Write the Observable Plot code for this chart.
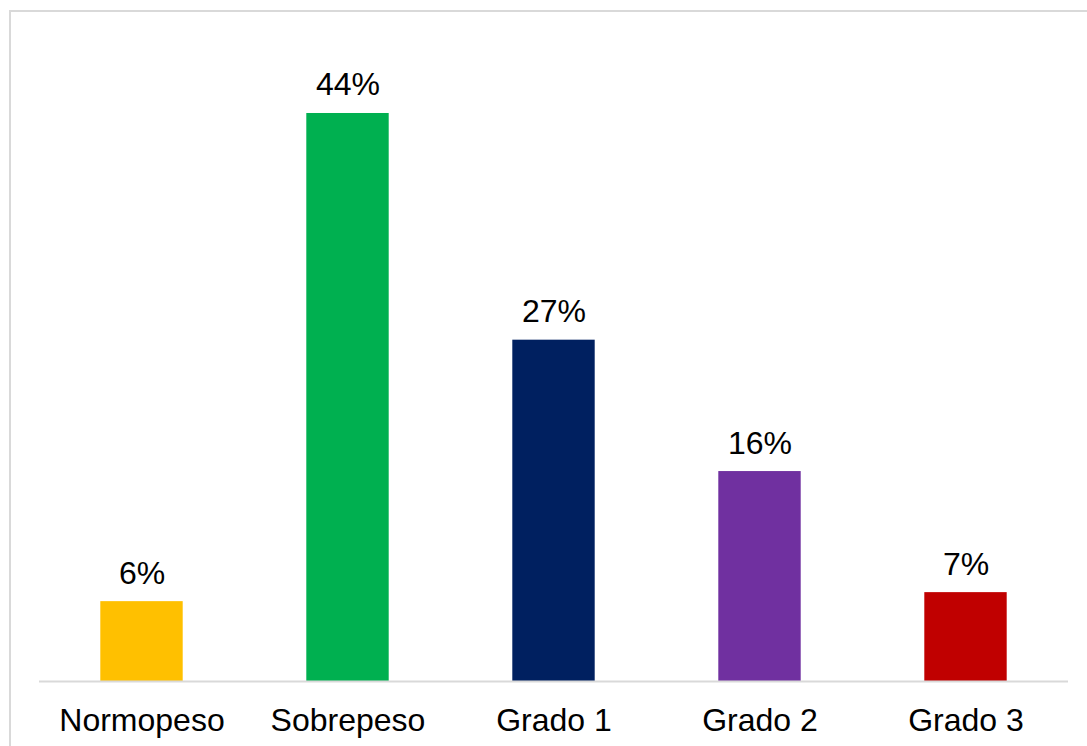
<!DOCTYPE html>
<html>
<head>
<meta charset="utf-8">
<script src="https://cdn.jsdelivr.net/npm/d3@7"></script>
<script src="https://cdn.jsdelivr.net/npm/@observablehq/plot@0.6"></script>
<style>
  html, body { margin: 0; padding: 0; background: #fff; overflow: hidden; }
  #wrap { position: relative; width: 1087px; height: 746px; }
  #border { position: absolute; left: 9px; top: 10px; width: 1200px; height: 900px;
            border: 2px solid #d9d9d9; box-sizing: border-box; pointer-events: none; }
  svg { display: block; }
</style>
</head>
<body>
<div id="wrap"><div id="border"></div></div>
<script>
const categories = ["Normopeso", "Sobrepeso", "Grado 1", "Grado 2", "Grado 3"];
const values = [6.2, 44.1, 26.5, 16.3, 6.9];
const valueLabels = ["6%", "44%", "27%", "16%", "7%"];
const colors = ["#FFC000", "#00B050", "#002060", "#7030A0", "#C00000"];

const data = categories.map((c, i) => ({cat: c, v: values[i], label: valueLabels[i], color: colors[i]}));
const font = "'Liberation Sans', Arial, sans-serif";

const chart = Plot.plot({
  width: 1087,
  height: 746,
  marginLeft: 39,
  marginRight: 19,
  marginTop: 37,
  marginBottom: 65,
  style: {fontFamily: font, background: "transparent", color: "#000"},
  x: {domain: categories, paddingInner: 0.6, paddingOuter: 0.3, label: null, range: [38.5, 1068.5], round: false},
  y: {domain: [0, 50], axis: null},
  marks: [
    Plot.barY(data, {x: "cat", y: "v", fill: "color"}),
    Plot.ruleY([0], {stroke: "#d9d9d9", strokeWidth: 2}),
    Plot.text(data, {x: "cat", y: "v", text: "label", lineAnchor: "bottom", dy: -18, fontSize: 32, fill: "#000"}),
    Plot.axisX({tickSize: 0, tickPadding: 27, fontSize: 32, label: null, fill: "#000"})
  ]
});
chart.style.position = "absolute";
chart.style.left = "0px";
chart.style.top = "0px";
document.getElementById("wrap").prepend(chart);
</script>
</body>
</html>
